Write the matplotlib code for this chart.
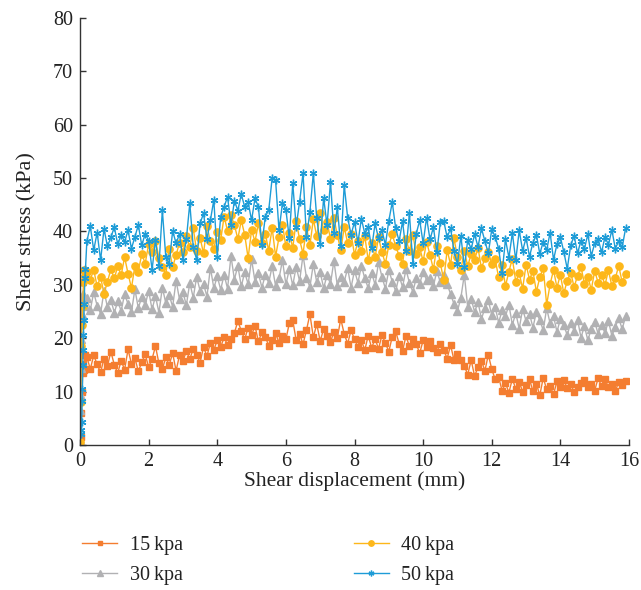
import numpy as np
import matplotlib
matplotlib.use('Agg')
import matplotlib.pyplot as plt

plt.rcParams['font.family'] = ['Liberation Serif', 'DejaVu Serif']

# displacement grid (mm) after the initial ramp
disp = np.round(np.arange(0.2, 15.95, 0.1), 2)

# --- 15 kpa
ramp15_x = [0.0, 0.02, 0.04, 0.06, 0.08, 0.1, 0.13, 0.16]
ramp15_y = [0.2, 1.5, 6.0, 10.0, 13.5, 15.2, 14.1, 16.8]
s15 = [16.5, 14.2, 16.8, 15.1, 13.6, 16.2, 14.8, 17.5, 15.0, 13.5,
       15.8, 14.1, 17.9, 15.2, 16.3, 13.8, 15.5, 17.0, 14.6, 16.1,
       18.5, 15.3, 14.2, 16.4, 15.0, 17.2, 13.9, 16.8, 15.7, 17.6,
       16.1, 18.0, 16.9, 15.4, 18.4, 16.6, 19.2, 17.8, 19.6, 18.3,
       20.2, 18.7, 19.9, 21.0, 23.2, 21.4, 19.8, 22.0, 20.6, 22.3,
       19.4, 21.1, 20.3, 18.6, 19.7, 20.9, 19.2, 20.5, 19.8, 22.8,
       23.4, 19.6, 20.8, 18.9, 21.5, 24.5, 20.2, 22.6, 19.5, 21.7,
       20.4, 19.3, 21.2, 20.1, 23.6, 20.8, 19.0, 21.5, 19.8, 18.4,
       19.6, 17.8, 20.5, 18.2, 19.9, 18.0, 20.6, 19.1, 17.5, 20.3,
       21.3, 19.0, 17.6, 20.4, 18.5, 19.8, 18.9, 17.2, 19.6, 18.3,
       19.4, 18.1, 17.5, 19.0, 17.8, 16.2, 18.7, 15.9, 17.1, 16.0,
       14.8, 13.2, 15.9, 12.9, 14.6, 15.8, 13.9, 16.9, 14.2, 12.3,
       12.7, 10.2, 11.6, 9.8, 12.4, 10.5, 11.8, 10.0, 11.2, 12.3,
       10.1, 11.5, 9.3, 12.6, 10.4, 11.0, 9.5, 11.9, 10.8, 12.1,
       10.6, 11.4, 9.9, 10.8, 11.6, 12.2, 10.9, 11.5, 10.2, 12.5,
       11.0, 12.3, 10.8, 11.4, 10.1, 11.8, 11.2, 12.0]

# --- 30 kpa
ramp30_x = [0.0, 0.01, 0.02, 0.03, 0.04, 0.05, 0.07, 0.1, 0.14]
ramp30_y = [0.8, 6.5, 9.2, 14.5, 19.8, 24.6, 27.1, 28.2, 26.0]
s30 = [27.5, 25.3, 28.6, 26.1, 24.6, 28.9, 25.8, 27.2, 24.8, 26.9,
       25.1, 28.3, 26.4, 24.9, 29.2, 25.6, 27.8, 26.2, 28.9, 25.4,
       27.9, 24.8, 29.5, 26.6, 28.1, 25.9, 30.8, 27.3, 28.6, 26.2,
       30.4, 27.6, 31.5, 28.9, 30.2, 27.8, 33.2, 29.4, 31.6, 29.1,
       31.9, 29.3, 35.4, 31.0, 33.6, 29.7, 32.4, 30.1, 34.8, 30.6,
       32.2, 29.5, 31.8, 30.4, 33.5, 29.8, 31.2, 34.6, 30.1, 32.9,
       29.9, 33.4, 30.7, 35.6, 31.3, 29.6, 33.9, 30.5, 32.4, 29.4,
       31.8, 30.2, 34.5, 29.8, 31.5, 30.6, 33.1, 29.5, 32.7, 30.4,
       33.6, 31.2, 29.4, 32.3, 30.0, 34.2, 31.5, 29.3, 32.8, 30.6,
       28.8, 31.7, 29.6, 32.9, 30.4, 28.7, 31.3, 30.2, 32.5, 30.9,
       31.2, 29.8, 32.6, 30.5, 31.8, 30.1, 28.3, 26.4, 25.1, 27.6,
       31.9, 25.8, 27.4, 24.9, 26.8, 23.6, 25.7, 27.1, 24.3, 25.9,
       22.9, 25.2, 24.1, 26.3, 22.5, 24.7, 21.8, 25.5, 23.2, 24.6,
       22.0, 24.9, 23.4, 21.5, 25.6, 22.8, 24.1, 21.2, 23.6, 22.4,
       20.6, 22.9, 21.4, 23.5, 20.1, 22.3, 19.6, 21.8, 23.1, 20.8,
       22.5, 21.0, 23.2, 20.5, 22.1, 23.8, 21.7, 24.1]

# --- 40 kpa
ramp40_x = [0.0, 0.02, 0.04, 0.06, 0.08, 0.1, 0.13, 0.16]
ramp40_y = [0.5, 8.0, 18.5, 22.5, 26.0, 30.5, 32.8, 31.6]
s40 = [32.4, 31.0, 32.8, 29.7, 31.5, 28.3, 30.6, 32.9, 31.2, 33.5,
       31.8, 35.2, 32.1, 29.4, 33.6, 32.5, 35.8, 34.0, 37.6, 36.2,
       38.3, 35.1, 33.4, 31.9, 36.8, 33.3, 35.6, 37.9, 36.1, 39.2,
       37.0, 40.6, 36.3, 38.8, 35.9, 41.0, 38.2, 36.7, 39.9, 38.4,
       42.8, 40.1, 43.0, 41.2, 38.6, 42.1, 39.4, 35.0, 40.3, 38.1,
       41.5, 37.8, 39.6, 36.4, 40.7, 35.3, 38.9, 41.3, 37.2, 39.8,
       36.9, 42.0, 38.5, 35.8, 40.9, 37.4, 42.3, 39.1, 43.4, 40.2,
       41.8, 38.6, 42.5, 39.3, 36.5, 40.8, 37.9, 39.6, 35.6, 38.2,
       36.4, 39.1, 34.6, 37.8, 35.2, 38.9, 36.1, 34.0, 37.4, 39.5,
       37.2, 35.5, 34.0, 38.6, 36.3, 39.4, 35.8, 37.0, 34.4, 38.1,
       35.6, 32.9, 37.3, 34.1, 30.9, 36.5, 33.8, 38.7, 35.2, 32.8,
       36.4, 33.5, 35.8, 34.7, 36.9, 33.1, 35.0, 36.2, 33.9, 34.8,
       31.4, 33.7, 29.8, 32.5, 34.9, 30.6, 32.2, 29.3, 33.8, 31.0,
       32.6, 28.7, 31.4, 33.2, 26.3, 30.1, 32.8, 29.5, 31.9, 28.4,
       30.8, 32.3, 29.6, 31.7, 33.4, 30.2, 31.5, 29.1, 32.6, 30.4,
       31.9, 30.0, 32.7, 29.8, 31.2, 33.6, 30.5, 32.1]

# --- 50 kpa
ramp50_x = [0.02, 0.04, 0.05, 0.06, 0.07, 0.08, 0.09, 0.1, 0.11, 0.12, 0.14, 0.16]
ramp50_y = [2.0, 2.8, 4.3, 8.2, 10.4, 15.0, 17.8, 20.6, 23.4, 26.5, 31.2, 33.0]
s50 = [38.2, 41.0, 36.5, 39.8, 34.6, 40.5, 37.2, 38.9, 40.8, 37.6,
       39.4, 38.1, 40.2, 36.8, 39.0, 41.2, 37.4, 39.6, 38.3, 32.8,
       38.4, 33.5, 44.0, 35.2, 34.0, 40.1, 37.8, 39.5, 34.7, 38.6,
       45.3, 37.1, 34.7, 41.5, 43.4, 38.6, 42.1, 45.9, 35.3, 42.8,
       44.6, 46.5, 41.2, 45.8, 43.9, 47.0, 44.6, 45.5, 42.1, 46.2,
       44.6, 37.5, 42.8, 44.0, 50.0, 49.6, 40.2, 45.3, 44.1, 38.7,
       49.0, 40.9, 45.6, 50.9, 38.9, 43.7, 50.9, 42.5, 37.6, 46.3,
       41.2, 49.3, 39.8, 44.5, 37.2, 48.7, 42.6, 39.4, 41.8, 37.9,
       42.4, 39.6, 40.8, 36.9, 41.5, 38.7, 40.2, 37.5, 42.0, 45.5,
       40.6, 38.2, 41.9, 36.4, 43.4, 34.0, 39.6, 42.1, 37.8, 42.6,
       38.5, 40.8, 36.1, 41.7, 42.0, 38.9, 40.6, 36.3, 33.9, 39.2,
       33.3, 38.4, 36.7, 39.5, 37.1, 40.6, 38.2, 35.9, 40.4, 39.0,
       36.8, 32.2, 38.5, 35.1, 39.7, 34.6, 40.2, 36.4, 38.8, 35.3,
       37.9, 39.4, 35.8, 38.1, 36.5, 39.8, 34.7, 37.6, 38.9, 36.2,
       33.0, 37.4, 39.2, 35.9, 38.3, 36.7, 39.5, 35.4, 37.8, 38.6,
       36.1, 39.0, 37.5, 40.3, 36.8, 38.2, 37.0, 40.6]

series = [
    ('15\u2009kpa', ramp15_x, ramp15_y, s15, '#F47D30', 's', 4.8),
    ('30\u2009kpa', ramp30_x, ramp30_y, s30, '#B1B1B3', '^', 5.6),
    ('40\u2009kpa', ramp40_x, ramp40_y, s40, '#FDB71A', 'o', 5.2),
    ('50\u2009kpa', ramp50_x, ramp50_y, s50, '#1E9CD7', (6, 2, 0), 5.5),
]

fig = plt.figure(figsize=(6.41, 5.90), dpi=100)
ax = fig.add_axes([0.1248, 0.2458, 0.8565, 0.7237])

for lab, rx, ry, vals, col, mk, ms in series:
    x = np.concatenate([rx, disp])
    y = np.concatenate([ry, vals])
    ax.plot(x, y, color=col, lw=1.0, marker=mk, ms=ms, mfc=col, mec=col,
            mew=1.0, label=lab)

ax.set_xlim(0, 16)
ax.set_ylim(0, 80)
ax.set_xticks(range(0, 17, 2))
ax.set_yticks(range(0, 81, 10))
for s in ['top', 'right']:
    ax.spines[s].set_visible(False)
for s in ['left', 'bottom']:
    ax.spines[s].set_color('#333333')
    ax.spines[s].set_linewidth(1.0)
ax.tick_params(direction='in', length=4, width=1, colors='#333333',
               labelsize=14.5, labelcolor='#222222', pad=5)
ax.set_xlabel('Shear displacement (mm)', fontsize=15.5, color='#222222', labelpad=0)
ax.set_ylabel('Shear stress (kPa)', fontsize=16, color='#222222', labelpad=12)

leg = fig.legend(loc='lower left', bbox_to_anchor=(0.1, -0.023), ncol=2,
                 frameon=False, fontsize=14.5, handlelength=1.75,
                 columnspacing=8.5, labelspacing=0.55, markerscale=0.75,
                 handletextpad=0.6)
for t in leg.get_texts():
    t.set_color('#222222')

fig.savefig('out.png', dpi=100)
